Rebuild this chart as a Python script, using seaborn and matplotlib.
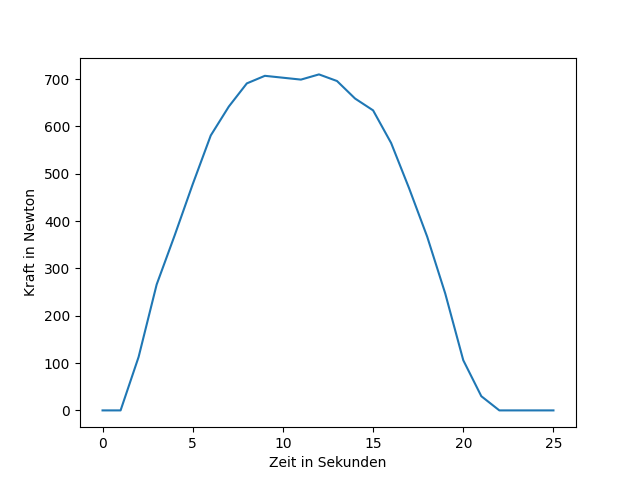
import numpy as np
import pandas as pd
import matplotlib
matplotlib.use("Agg")
import matplotlib.pyplot as plt
import seaborn as sns

# Kraftmessung über die Zeit
zeit = list(range(26))
kraft = [0, 0, 113, 266, 370, 478, 581, 642, 691, 707, 703, 699, 710, 696,
         659, 634, 565, 469, 367, 247, 106, 30, 0, 0, 0, 0]

df = pd.DataFrame({"Zeit": zeit, "Kraft": kraft})

fig, ax = plt.subplots(figsize=(6.4, 4.8), dpi=100)
sns.lineplot(data=df, x="Zeit", y="Kraft", ax=ax, color="#1f77b4")

ax.set_xlabel("Zeit in Sekunden")
ax.set_ylabel("Kraft in Newton")

plt.savefig("out.png", dpi=100)
